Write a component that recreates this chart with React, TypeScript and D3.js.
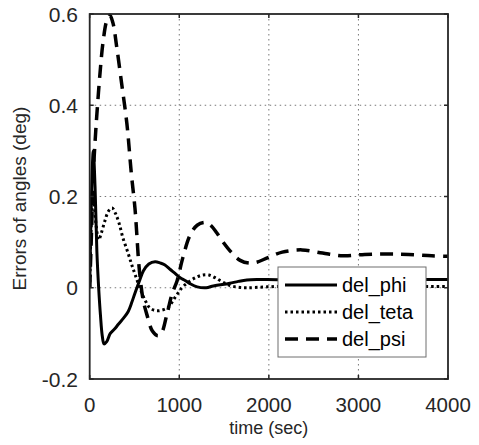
import React from 'react';
import * as d3 from 'd3';

const W = 479;
const H = 445;
const PLOT = { left: 89.7, right: 448, top: 14, bottom: 379 };

const xTicks = [0, 1000, 2000, 3000, 4000];
const yTicks = [-0.2, 0, 0.2, 0.4, 0.6];
const yTickLabels = ['-0.2', '0', '0.2', '0.4', '0.6'];

// del_phi (solid)
const phiT = [0, 20, 40, 60, 80, 100, 120, 140, 160, 190, 230, 280, 320, 380, 430, 470, 505, 550, 600, 660, 730, 790, 840, 900, 950, 1010, 1065, 1120, 1200, 1300, 1380, 1480, 1565, 1660, 1755, 1880, 1980, 2300, 2700, 3100, 3500, 4000];
const phiV = [0, 0.2, 0.3, 0.22, 0.08, 0.0, -0.06, -0.105, -0.123, -0.118, -0.1, -0.09, -0.08, -0.066, -0.052, -0.032, -0.012, 0.012, 0.037, 0.052, 0.057, 0.054, 0.05, 0.04, 0.032, 0.022, 0.016, 0.009, 0.002, 0.0, 0.004, 0.007, 0.01, 0.014, 0.017, 0.018, 0.018, 0.017, 0.018, 0.017, 0.018, 0.018];

// del_teta (dotted)
const tetaT = [0, 20, 40, 70, 100, 130, 170, 210, 250, 290, 330, 370, 430, 470, 505, 560, 620, 670, 730, 785, 875, 950, 1030, 1120, 1200, 1265, 1330, 1400, 1480, 1565, 1660, 1755, 1980, 2300, 2700, 3100, 3500, 4000];
const tetaV = [0, 0.15, 0.2, 0.14, 0.105, 0.12, 0.147, 0.168, 0.175, 0.162, 0.14, 0.11, 0.075, 0.05, 0.03, 0.0, -0.028, -0.044, -0.05, -0.05, -0.043, -0.022, 0.0, 0.015, 0.024, 0.028, 0.028, 0.022, 0.013, 0.005, 0.001, 0.0, 0.002, 0.004, 0.003, 0.004, 0.003, 0.003];

// del_psi (dashed)
const psiT = [0, 20, 40, 60, 80, 115, 150, 190, 225, 260, 300, 355, 415, 465, 505, 525, 545, 570, 600, 640, 700, 760, 800, 860, 920, 975, 1040, 1120, 1200, 1290, 1345, 1420, 1490, 1580, 1680, 1780, 1865, 1990, 2150, 2370, 2600, 2830, 3070, 3320, 3560, 3820, 4000];
const psiV = [0, 0.12, 0.25, 0.32, 0.38, 0.47, 0.54, 0.585, 0.597, 0.58, 0.53, 0.45, 0.36, 0.25, 0.175, 0.12, 0.06, 0.01, -0.03, -0.06, -0.095, -0.105, -0.1, -0.06, -0.013, 0.015, 0.066, 0.115, 0.137, 0.143, 0.138, 0.12, 0.1, 0.078, 0.06, 0.054, 0.056, 0.066, 0.078, 0.083, 0.076, 0.07, 0.073, 0.074, 0.073, 0.07, 0.069];

const series = [
  { name: 'del_phi', t: phiT, v: phiV, dash: null, width: 3 },
  { name: 'del_teta', t: tetaT, v: tetaV, dash: '2.5,3', width: 3 },
  { name: 'del_psi', t: psiT, v: psiV, dash: '13,8', width: 3.5 },
];

const TEXT = '#262626';
const FONT = '"Liberation Sans", Arial, Helvetica, sans-serif';

export default function App() {
  const x = d3.scaleLinear().domain([0, 4000]).range([PLOT.left, PLOT.right]);
  const y = d3.scaleLinear().domain([-0.2, 0.6]).range([PLOT.bottom, PLOT.top]);

  const line = d3.line<[number, number]>()
    .x(d => x(d[0]))
    .y(d => y(d[1]))
    .curve(d3.curveCatmullRom.alpha(0.5));

  const legend = { x: 278, y: 267, w: 148, h: 90 };
  const rowY = [285, 312, 339];

  return (
    <svg width={W} height={H} style={{ position: 'absolute', left: 0, top: 0, background: '#fff' }}
      fontFamily={FONT}>
      <defs>
        <clipPath id="plotClip">
          <rect x={PLOT.left} y={PLOT.top - 2} width={PLOT.right - PLOT.left} height={PLOT.bottom - PLOT.top + 2} />
        </clipPath>
      </defs>
      <rect x={0} y={0} width={W} height={H} fill="#fff" />

      {/* grid */}
      {xTicks.slice(1, -1).map(t => (
        <line key={'gx' + t} x1={x(t)} x2={x(t)} y1={PLOT.top} y2={PLOT.bottom}
          stroke="#777" strokeWidth={1} strokeDasharray="1.5,3.5" />
      ))}
      {yTicks.slice(1, -1).map(t => (
        <line key={'gy' + t} x1={PLOT.left} x2={PLOT.right} y1={y(t)} y2={y(t)}
          stroke="#777" strokeWidth={1} strokeDasharray="1.5,3.5" />
      ))}

      {/* curves */}
      <g clipPath="url(#plotClip)">
        {series.map(s => (
          <path key={s.name}
            d={line(s.t.map((t, i) => [t, s.v[i]] as [number, number])) || ''}
            fill="none" stroke="#000" strokeWidth={s.width}
            strokeDasharray={s.dash || undefined} strokeLinejoin="round" />
        ))}
      </g>

      {/* axes box */}
      <rect x={PLOT.left} y={PLOT.top} width={PLOT.right - PLOT.left} height={PLOT.bottom - PLOT.top}
        fill="none" stroke={TEXT} strokeWidth={1.8} />
      {xTicks.map(t => (
        <g key={'tx' + t}>
          <line x1={x(t)} x2={x(t)} y1={PLOT.bottom} y2={PLOT.bottom - 4} stroke={TEXT} strokeWidth={1.5} />
          <line x1={x(t)} x2={x(t)} y1={PLOT.top} y2={PLOT.top + 4} stroke={TEXT} strokeWidth={1.5} />
          <text x={x(t)} y={412} textAnchor="middle" fontSize={20.5} fill={TEXT}>{t}</text>
        </g>
      ))}
      {yTicks.map((t, i) => (
        <g key={'ty' + t}>
          <line x1={PLOT.left} x2={PLOT.left + 4} y1={y(t)} y2={y(t)} stroke={TEXT} strokeWidth={1.5} />
          <line x1={PLOT.right} x2={PLOT.right - 4} y1={y(t)} y2={y(t)} stroke={TEXT} strokeWidth={1.5} />
          <text x={78} y={y(t) + 7.5} textAnchor="end" fontSize={21} fill={TEXT}>{yTickLabels[i]}</text>
        </g>
      ))}

      {/* axis labels */}
      <text x={(PLOT.left + PLOT.right) / 2} y={434} textAnchor="middle" fontSize={18} fill={TEXT}>time (sec)</text>
      <text transform={`translate(26,${(PLOT.top + PLOT.bottom) / 2 + 2}) rotate(-90)`} textAnchor="middle"
        fontSize={19} fill={TEXT}>Errors of angles (deg)</text>

      {/* legend */}
      <rect x={legend.x} y={legend.y} width={legend.w} height={legend.h} fill="#fff" stroke="#6e6e6e" strokeWidth={1} />
      {series.map((s, i) => (
        <g key={'lg' + s.name}>
          <line x1={285} x2={337} y1={rowY[i]} y2={rowY[i]} stroke="#000" strokeWidth={s.width}
            strokeDasharray={s.dash || undefined} />
          <text x={342} y={rowY[i] + 7} fontSize={20} fill="#000">{s.name}</text>
        </g>
      ))}
    </svg>
  );
}
